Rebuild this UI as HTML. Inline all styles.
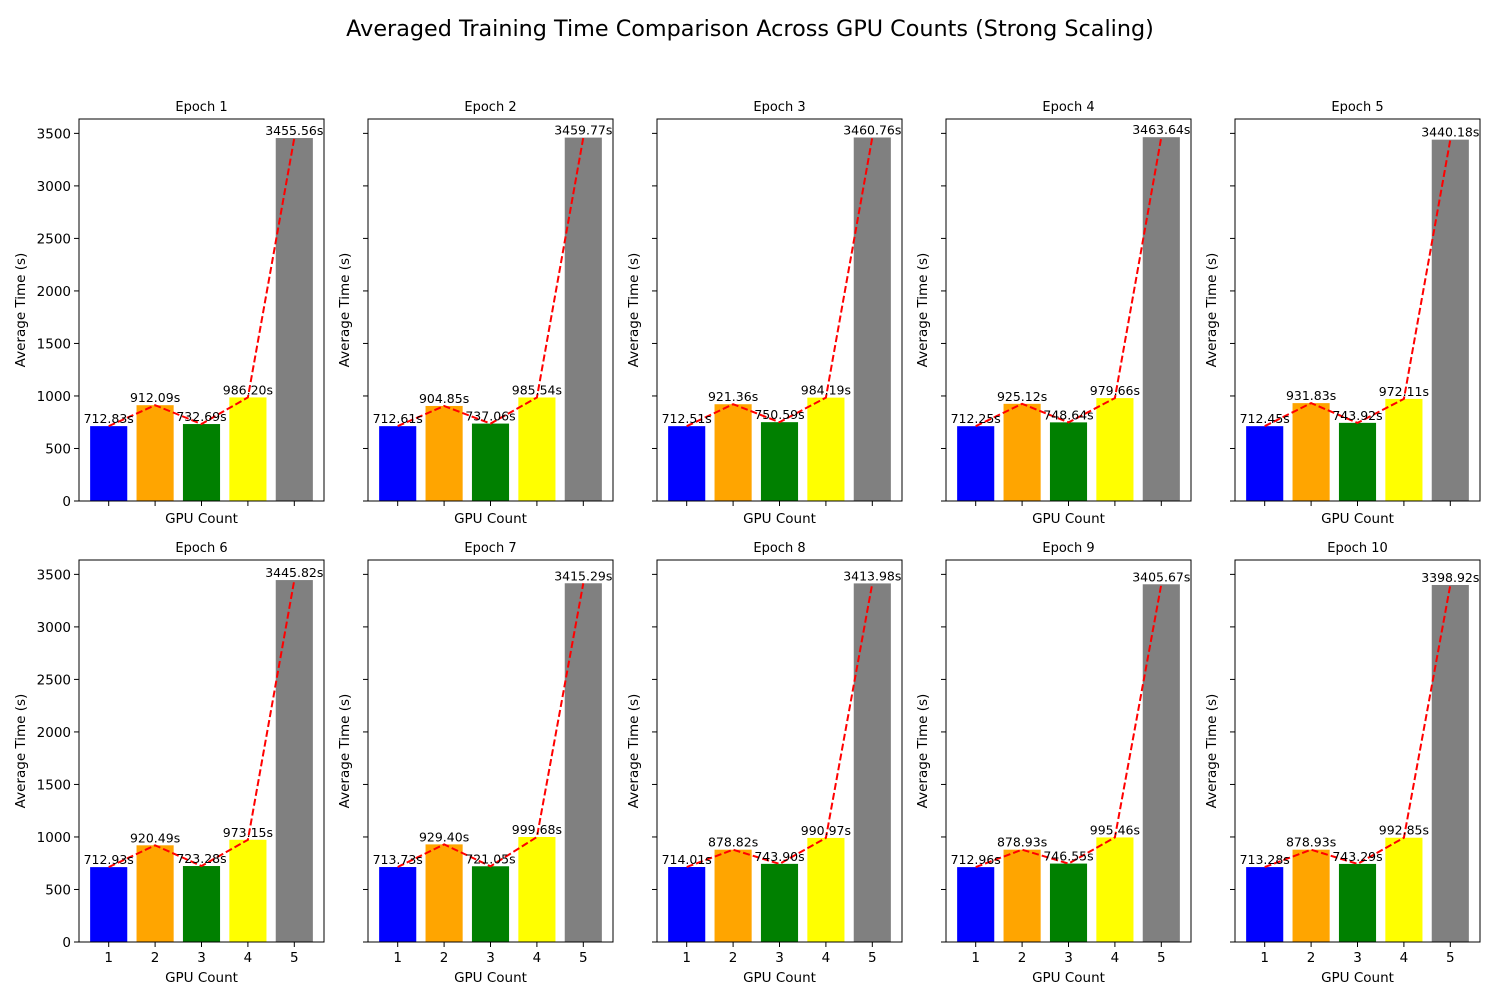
<!DOCTYPE html>
<html><head><meta charset="utf-8"><style>
body{margin:0;background:#fff;}
svg{display:block;font-family:"DejaVu Sans","Liberation Sans",sans-serif;}
</style></head><body>
<svg id="fig" width="1500" height="1000" viewBox="0 0 1500 1000">
<text x="750" y="36" text-anchor="middle" font-size="22.3" fill="#000">Averaged Training Time Comparison Across GPU Counts (Strong Scaling)</text>
</svg>
<script>
const gpuCounts = [1,2,3,4,5];
const barColors = ["blue","orange","green","yellow","gray"];
const epochTitles = ["Epoch 1","Epoch 2","Epoch 3","Epoch 4","Epoch 5","Epoch 6","Epoch 7","Epoch 8","Epoch 9","Epoch 10"];
const epoch1 = [712.83,912.09,732.69,986.20,3455.56];
const epoch2 = [712.61,904.85,737.06,985.54,3459.77];
const epoch3 = [712.51,921.36,750.59,984.19,3460.76];
const epoch4 = [712.25,925.12,748.64,979.66,3463.64];
const epoch5 = [712.45,931.83,743.92,972.11,3440.18];
const epoch6 = [712.93,920.49,723.28,973.15,3445.82];
const epoch7 = [713.73,929.40,721.05,999.68,3415.29];
const epoch8 = [714.01,878.82,743.90,990.97,3413.98];
const epoch9 = [712.96,878.93,746.55,995.46,3405.67];
const epoch10 = [713.28,878.93,743.29,992.85,3398.92];
const yTicks = [0,500,1000,1500,2000,2500,3000,3500];
const allEpochs = [epoch1,epoch2,epoch3,epoch4,epoch5,epoch6,epoch7,epoch8,epoch9,epoch10];

const NS="http://www.w3.org/2000/svg";
const svg=document.getElementById('fig');
function mk(tag,attrs,parent){const e=document.createElementNS(NS,tag);for(const k in attrs)e.setAttribute(k,attrs[k]);(parent||svg).appendChild(e);return e;}
const yMax=Math.max(...allEpochs.flat())*1.05;
const W=245,H=382;
allEpochs.forEach((vals,i)=>{
  const r=Math.floor(i/5),c=i%5;
  const L=79+c*289, T=119+r*441, B=T+H;
  const g=mk('g',{});
  
  
  const xs=v=>L+(v-0.36)/5.28*W;
  const ys=v=>B-v/yMax*H;
  const t=mk('text',{x:L+W/2,y:T-8,'text-anchor':'middle','font-size':13},g);t.textContent=epochTitles[i];
  
  
  const bw=0.8/5.28*W;
  vals.forEach((v,j)=>{
    const rc=mk('rect',{x:xs(gpuCounts[j])-bw/2,y:ys(v),width:bw,height:B-ys(v),fill:barColors[j]},g);
    
    
  });
  const pts=vals.map((v,j)=>xs(gpuCounts[j]).toFixed(1)+','+ys(v).toFixed(1)).join(' ');
  const pl=mk('polyline',{points:pts,fill:'none',stroke:'red','stroke-width':2,'stroke-dasharray':'7,3'},g);
  
  
  vals.forEach((v,j)=>{
    const tx=mk('text',{x:xs(gpuCounts[j]),y:ys(v)-3,'text-anchor':'middle','font-size':12.5},g);
    tx.textContent=v.toFixed(2)+'s';
    
    
  });
  mk('rect',{x:L,y:T,width:W,height:H,fill:'none',stroke:'#000','stroke-width':1},g);
  yTicks.forEach(tv=>{
    const y=ys(tv);
    mk('line',{x1:L-5,x2:L,y1:y,y2:y,stroke:'#000'},g);
    if(c===0){const tl=mk('text',{x:L-8,y:y+5,'text-anchor':'end','font-size':13.5},g);tl.textContent=tv;
      
      }
  });
  gpuCounts.forEach(gc=>{
    const x=xs(gc);
    mk('line',{x1:x,x2:x,y1:B,y2:B+5,stroke:'#000'},g);
    if(r===1){const tl=mk('text',{x:x,y:B+20,'text-anchor':'middle','font-size':13.5},g);tl.textContent=gc;
      
      }
  });
  const xl=mk('text',{x:L+W/2,y:r===1?B+40:B+22,'text-anchor':'middle','font-size':13.5},g);xl.textContent='GPU Count';
  
  
  const yx=c===0?L-54:L-19;
  const yl=mk('text',{x:yx,y:T+H/2,'text-anchor':'middle','font-size':13.5,transform:`rotate(-90 ${yx} ${T+H/2})`},g);yl.textContent='Average Time (s)';
  
  
});
</script>
</body></html>
